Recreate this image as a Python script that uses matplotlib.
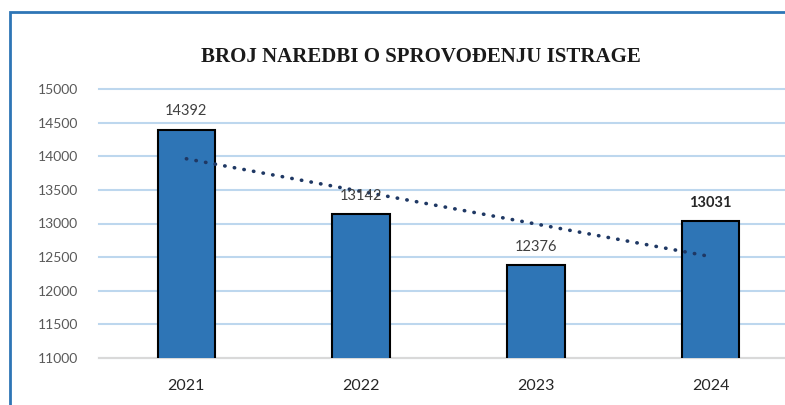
import numpy as np
import matplotlib
matplotlib.use('Agg')
import matplotlib.pyplot as plt
from matplotlib.patches import Rectangle

# Data
years = ['2021', '2022', '2023', '2024']
counts = [14392, 13142, 12376, 13031]
bold_label = [False, False, False, True]
title = 'BROJ NAREDBI O SPROVOĐENJU ISTRAGE'

W, H = 785, 405
fig = plt.figure(figsize=(W / 100, H / 100), dpi=100)

# Outer border (cropped chart frame)
fig.patches.append(Rectangle((10 / W, -0.1), 1.2, (H - 12) / H + 0.1,
                             transform=fig.transFigure, fill=False,
                             edgecolor='#2e75b6', linewidth=2))

# Axes area, the right side runs a bit past the image edge
left, right = 99, 798
top, bottom = 89, 358
ax = fig.add_axes([left / W, 1 - bottom / H, (right - left) / W, (bottom - top) / H])

x = np.arange(len(years))
ax.bar(x, counts, width=0.33, color='#2e75b6', edgecolor='black', linewidth=1.5, zorder=3)

# Linear trend line
slope, intercept = np.polyfit(x, counts, 1)
ax.plot(x, slope * x + intercept, linestyle=(0, (0.1, 2.6)), dash_capstyle='round',
        color='#1f3864', linewidth=2.6, zorder=4)

for xi, v, b in zip(x, counts, bold_label):
    ax.text(xi, v + 170, str(v), ha='center', va='bottom', fontsize=10.5,
            family='Lato', color='#262626' if b else '#404040',
            fontweight='bold' if b else 'normal', zorder=5)

ax.set_xlim(-0.5, 3.5)
ax.set_ylim(11000, 15000)
ax.set_yticks(range(11000, 15001, 500))
ax.set_xticks(x)
ax.set_xticklabels(years)
ax.grid(axis='y', color='#bdd7ee', linewidth=1.5, zorder=0)
for gl in ax.get_ygridlines():
    gl.set_clip_on(False)
ax.set_axisbelow(True)
for s in ['top', 'right', 'left']:
    ax.spines[s].set_visible(False)
ax.spines['bottom'].set_color('#d9d9d9')
ax.spines['bottom'].set_linewidth(1.5)
ax.spines['bottom'].set_zorder(1)
ax.tick_params(axis='both', length=0)
ax.tick_params(axis='y', pad=15, labelsize=10, labelcolor='#595959')
ax.tick_params(axis='x', pad=15, labelsize=11.5, labelcolor='#262626')
for lbl in ax.get_xticklabels() + ax.get_yticklabels():
    lbl.set_family('Lato')

fig.text(421 / W, 1 - 57 / H, title, ha='center', va='center', fontsize=15,
         family='Liberation Serif', fontweight='bold', color='#1a1a1a')

fig.savefig('out.png', dpi=100)
plt.close(fig)
